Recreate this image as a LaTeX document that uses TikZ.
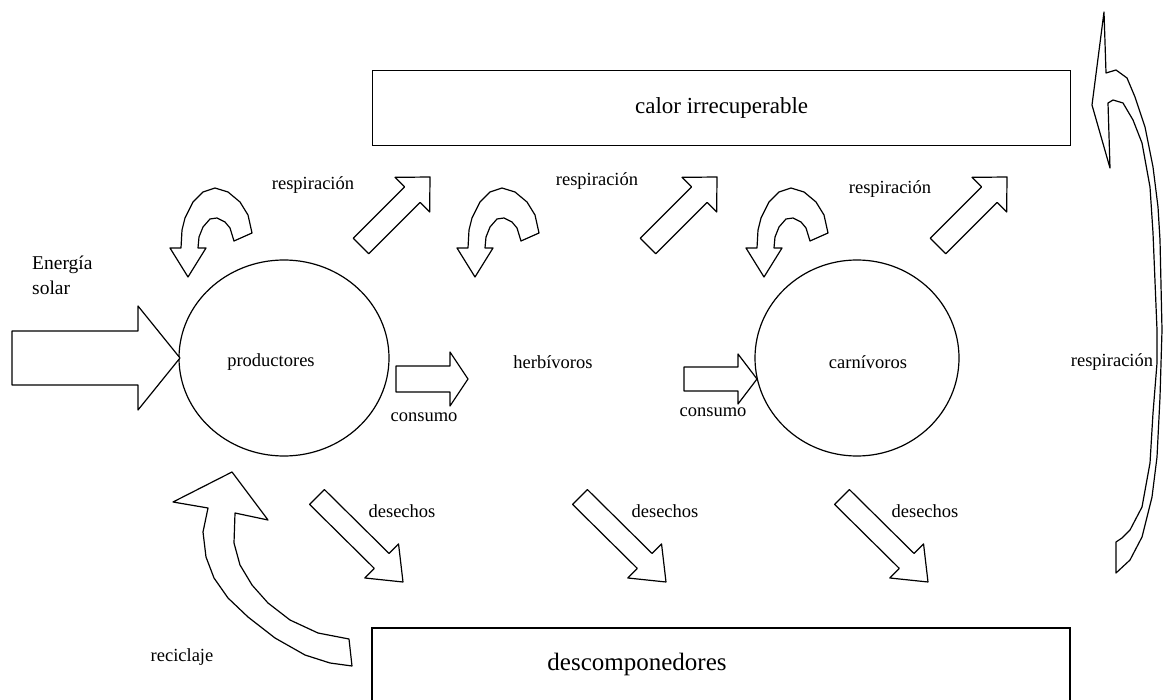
\documentclass[tikz,border=0pt]{standalone}
\usepackage{fontspec}
\setmainfont{Liberation Serif}
\usetikzlibrary{calc}
\tikzset{
  shapeline/.style={draw=black, line width=1.2pt, line join=round, fill=white},
  lbl/.style={font=\fontsize{18.5}{20}\selectfont, inner sep=0pt},
  bigl/.style={font=\fontsize{23}{26}\selectfont, inner sep=0pt},
}
\newcommand{\blockarrow}[6]{%
  \coordinate (#1-s) at #2;
  \coordinate (#1-t) at #3;
  \coordinate (#1-h) at ($(#1-t)!#6!(#1-s)$);
  \draw[shapeline] ($(#1-s)!#4!90:(#1-t)$) -- ($(#1-h)!#4!90:(#1-t)$) -- ($(#1-h)!#5!90:(#1-t)$) -- (#1-t) -- ($(#1-h)!#5!-90:(#1-t)$) -- ($(#1-h)!#4!-90:(#1-t)$) -- ($(#1-s)!#4!-90:(#1-t)$) -- cycle;
}
\newcommand{\uturn}[1]{%
  \begin{scope}[shift={(#1,0)}]
  \draw[shapeline] (252,233) -- (248,215) -- (240,202) -- (228,192) -- (215,188) -- (203,192) -- (193,202) -- (185,218) -- (182,230) -- (181,248) -- (170,248) -- (188,277) -- (206,248) -- (198,248) -- (199,237) -- (203,227) -- (210,219) -- (217,218) -- (225,222) -- (230,228) -- (234,241) -- cycle;
  \end{scope}
}
\begin{document}
\begin{tikzpicture}[x=1pt,y=-1pt]
\path[fill=white] (0,0) rectangle (1167,700);
\useasboundingbox (0,0) rectangle (1167,700);
\clip (0,0) rectangle (1167,700);

% boxes
\node[draw, line width=1.2pt, minimum width=698pt, minimum height=75pt, anchor=north west, inner sep=0pt] (calor) at (372,70) {};
\node[bigl] at (calor.center) {calor irrecuperable};
\draw[line width=1.2pt] (372,720) -- (372,628) -- (1070,628) -- (1070,720);
\node[bigl, font=\fontsize{25}{28}\selectfont] (desc) at (637,664) {descomponedores};

% ellipses
\draw[line width=1.2pt] (284,358) ellipse [x radius=105, y radius=98];
\node[lbl] (prod) at (271,362) {productores};
\draw[line width=1.2pt] (857,358) ellipse [x radius=102, y radius=98];
\node[lbl] (carn) at (868,362) {carnívoros};
\node[lbl] (herb) at (553,362) {herbívoros};

% energia solar
\node[lbl, align=left, anchor=north west, font=\fontsize{19.5}{25}\selectfont] (sol) at (32,256) {Energía\\solar};
\blockarrow{sun}{(12,358)}{(180,358)}{27pt}{52pt}{42pt}

% consumo
\blockarrow{c1}{(396,379)}{(468,379)}{13pt}{27pt}{18pt}
\blockarrow{c2}{(684,379)}{(757,379)}{12pt}{25pt}{19pt}
\node[lbl] at (424,417) {consumo};
\node[lbl] at (713,412) {consumo};

% respiracion straight
\blockarrow{r1}{(361,246)}{(430,177)}{11pt}{24.5pt}{25pt}
\blockarrow{r2}{(648,246)}{(717,177)}{11pt}{24.5pt}{25pt}
\blockarrow{r3}{(938,246)}{(1007,177)}{11pt}{24.5pt}{25pt}
\node[lbl] at (313,185) {respiración};
\node[lbl] at (597,181) {respiración};
\node[lbl] at (890,189) {respiración};

% u-turns
\uturn{0}
\uturn{287}
\uturn{576}

% desechos
\blockarrow{d1}{(317,497)}{(403,582)}{10.5pt}{24pt}{30pt}
\blockarrow{d2}{(580,497)}{(666,582)}{10.5pt}{24pt}{30pt}
\blockarrow{d3}{(842,497)}{(928,582)}{10.5pt}{24pt}{30pt}
\node[lbl] at (402,511) {desechos};
\node[lbl] at (665,511) {desechos};
\node[lbl] at (925,511) {desechos};

% reciclaje
\draw[shapeline] (352,666) -- (330,663) -- (305,655) -- (275,638) -- (248,617) -- (228,598) -- (214,578) -- (206,557) -- (203,532) -- (208,508) -- (173,502) -- (232,472) -- (268,520) -- (235,513) -- (234,543) -- (240,565) -- (252,585) -- (268,603) -- (290,620) -- (318,633) -- (349,639) -- cycle;
\node[lbl] at (182,657) {reciclaje};

% big right arrow
\draw[shapeline] (1104,12) -- (1092,105) -- (1110,168) -- (1108,103) -- (1113,100) -- (1123,103) -- (1133,120) -- (1142,143) -- (1150,187) -- (1153,233) -- (1157,330) -- (1157,363) -- (1153,413) -- (1150,463) -- (1142,507) -- (1130,530) -- (1122,538) -- (1116,542) -- (1116,573) -- (1130,560) -- (1142,537) -- (1152,497) -- (1157,457) -- (1160,397) -- (1162,330) -- (1160,240) -- (1158,207) -- (1153,167) -- (1145,127) -- (1135,97) -- (1127,78) -- (1116,70) -- (1106,73) -- cycle;
\node[lbl] at (1112,362) {respiración};
\end{tikzpicture}
\end{document}
